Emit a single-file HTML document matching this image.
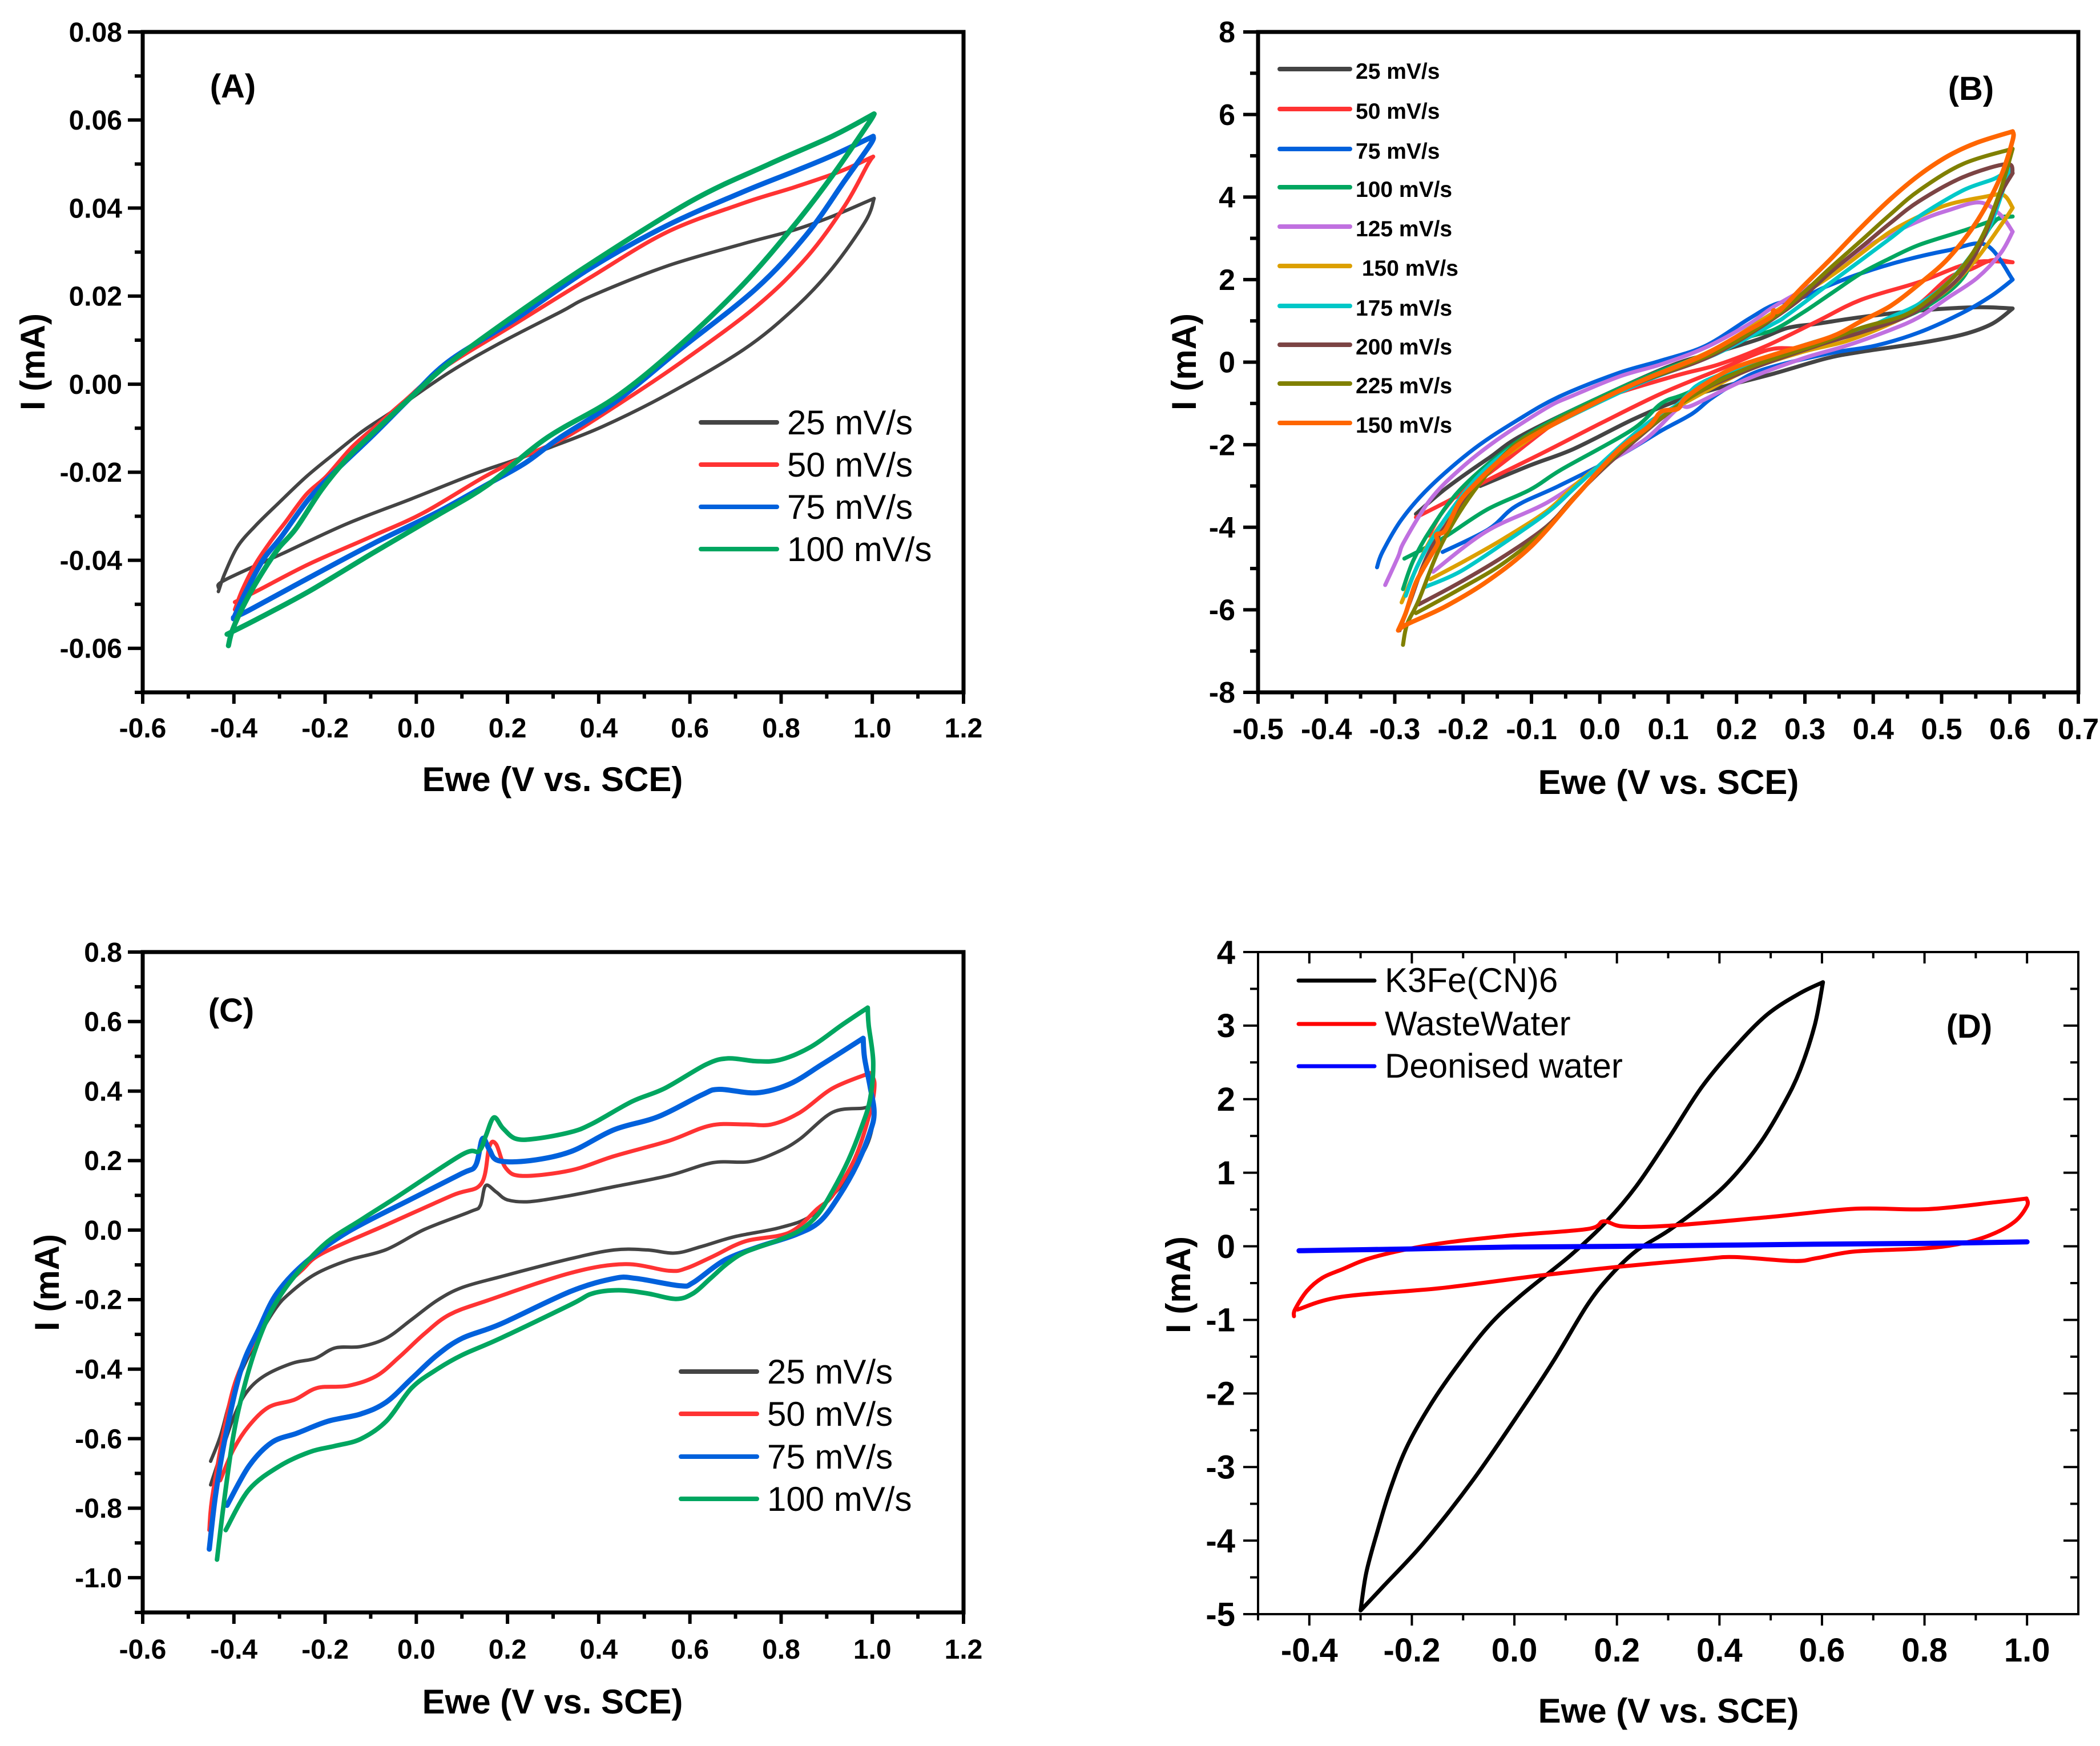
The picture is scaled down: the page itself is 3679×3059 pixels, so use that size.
<!DOCTYPE html>
<html lang="en">
<head>
<meta charset="utf-8">
<title>Cyclic voltammetry panels A-D</title>
<style>
html,body{margin:0;padding:0;background:#fff;width:3679px;height:3059px;overflow:hidden}
svg{display:block}
text{font-family:"Liberation Sans",sans-serif;fill:#000}
</style>
</head>
<body>
<svg id="figure" xmlns="http://www.w3.org/2000/svg" width="3679" height="3059" viewBox="0 0 3679 3059"></svg>
<script>
// ---------- Panel A ----------
const aLabels = ['25 mV/s','50 mV/s','75 mV/s','100 mV/s'];
const aXTicks = [-0.6,-0.4,-0.2,0,0.2,0.4,0.6,0.8,1.0,1.2];
const aYTicks = [-0.06,-0.04,-0.02,0,0.02,0.04,0.06,0.08];
const a25 = [[-.434,-.0471],[-.42,-.043],[-.392,-.0369],[-.353,-.0322],[-.303,-.0271],[-.241,-.021],[-.18,-.0158],[-.118,-.0107],[-.051,-.0061],[.071,.0026],[.183,.0093],[.318,.0165],[.381,.0199],[.549,.0268],[.717,.0319],[.828,.035],[.912,.0381],[1.004,.0422],null,[.985,.037],[.912,.0263],[.828,.0171],[.717,.0078],[.549,-.0024],[.409,-.0096],[.295,-.0143],[.211,-.0174],[.127,-.0204],[-.012,-.0261],[-.152,-.0317],[-.292,-.0384],[-.42,-.0445],[-.434,-.0462]];
const a50 = [[-.398,-.0512],[-.381,-.0466],[-.353,-.0409],[-.32,-.0358],[-.286,-.0312],[-.241,-.025],[-.197,-.0209],[-.141,-.0143],[-.085,-.0092],[-.029,-.0041],[.06,.0037],[.2135,.0135],[.381,.0242],[.549,.0345],[.717,.0411],[.828,.0447],[.929,.0483],[1.002,.0517],null,[.99,.0499],[.94,.0406],[.856,.0288],[.745,.0176],[.577,.0047],[.437,-.005],[.325,-.0122],[.239,-.0163],[.15,-.021],[.016,-.0292],[-.096,-.0345],[-.236,-.0409],[-.348,-.0469],[-.398,-.0495]];
const a75 = [[-.401,-.0533],[-.376,-.0476],[-.336,-.0399],[-.297,-.0348],[-.236,-.0261],[-.174,-.0194],[-.096,-.0117],[-.012,-.003],[.071,.0052],[.2135,.0145],[.381,.0263],[.549,.036],[.717,.0437],[.828,.0483],[.912,.0519],[1.002,.0563],null,[.996,.0545],[.94,.0463],[.856,.034],[.745,.0217],[.577,.0078],[.437,-.004],[.314,-.0122],[.239,-.0179],[.155,-.0228],[.044,-.0292],[-.096,-.0363],[-.236,-.044],[-.364,-.0512],[-.401,-.053]];
const a100 = [[-.412,-.0594],[-.403,-.0558],[-.376,-.0497],[-.342,-.0435],[-.303,-.0374],[-.264,-.0328],[-.208,-.024],[-.152,-.0169],[-.096,-.0112],[-.012,-.003],[.071,.0047],[.2135,.0155],[.381,.0273],[.605,.0417],[.772,.0499],[.912,.0563],[1.004,.0614],null,[.99,.059],[.912,.0473],[.828,.036],[.717,.0227],[.577,.0088],[.437,-.003],[.286,-.0122],[.155,-.023],[.044,-.0299],[-.096,-.0384],[-.236,-.0471],[-.348,-.0533],[-.415,-.0568]];

// ---------- Panel B ----------
const bLabels = ['25 mV/s','50 mV/s','75 mV/s','100 mV/s','125 mV/s',' 150 mV/s','175 mV/s','200 mV/s','225 mV/s','150 mV/s'];
const bXTicks = [-0.5,-0.4,-0.3,-0.2,-0.1,0,0.1,0.2,0.3,0.4,0.5,0.6,0.7];
const bYTicks = [-8,-6,-4,-2,0,2,4,6,8];
const b25 = [[-.269,-3.68],[-.226,-3.07],[-.163,-2.33],[-.099,-1.64],[.09,-.18],[.175,.26],[.233,.56],[.275,.83],[.318,.93],[.382,1.09],[.467,1.25],[.552,1.33],[.604,1.3],null,[.574,.93],[.531,.67],[.467,.46],[.382,.25],[.331,.09],[.254,-.28],[.175,-.62],[.111,-.95],[.047,-1.4],[-.038,-2.1],[-.102,-2.5],[-.175,-3]];
const b50 = [[-.25,-4.2],[-.231,-3.65],[-.197,-3.01],[-.163,-2.7],[-.077,-1.6],[-.038,-1.15],[.026,-.75],[.115,-.31],[.175,-.05],[.243,.39],[.318,.99],[.382,1.51],[.467,1.94],[.544,2.41],[.604,2.42],null,[.574,2.47],[.544,2.26],[.51,2.04],[.467,1.41],[.425,1.04],[.361,.62],[.297,.35],[.247,.3],[.175,-.18],[.09,-.76],[.005,-1.45],[-.08,-2.17],[-.163,-2.85],[-.226,-3.4],[-.269,-3.76]];
const b75 = [[-.326,-4.97],[-.318,-4.6],[-.29,-3.81],[-.248,-3.01],[-.184,-2.1],[-.12,-1.4],[-.06,-.84],[.026,-.27],[.09,.04],[.154,.39],[.218,1.05],[.256,1.4],[.297,1.57],[.331,1.83],[.382,2.15],[.446,2.47],[.51,2.71],[.565,2.84],[.604,2],null,[.574,1.62],[.531,1.2],[.467,.72],[.403,.4],[.332,.2],[.239,-.18],[.196,-.53],[.162,-.89],[.135,-1.25],[.09,-1.66],[.03,-2.25],[-.06,-3],[-.123,-3.49],[-.163,-4.05],[-.23,-4.6]];
const b100 = [[-.288,-5.5],[-.273,-4.81],[-.248,-4.07],[-.205,-3.1],[-.141,-2.17],[-.077,-1.48],[.008,-.79],[.09,-.2],[.154,.17],[.218,.61],[.254,.78],[.297,1.2],[.339,1.67],[.382,2.15],[.425,2.52],[.467,2.84],[.531,3.18],[.582,3.47],[.604,3.53],null,[.582,3.47],[.561,3],[.531,2.04],[.489,1.46],[.446,1.09],[.382,.72],[.318,.46],[.211,-.12],[.126,-.76],[.09,-1],[.047,-1.64],[-.056,-2.6],[-.102,-3.09],[-.166,-3.58],[-.231,-4.28],[-.286,-4.76]];
const b125 = [[-.314,-5.4],[-.295,-4.71],[-.286,-4.34],[-.248,-3.33],[-.205,-2.6],[-.15,-1.88],[-.077,-1.1],[-.038,-.8],[.03,-.34],[.09,-.05],[.154,.35],[.218,.92],[.256,1.36],[.339,2.15],[.395,2.84],[.467,3.42],[.51,3.68],[.556,3.87],[.586,3.57],[.604,3.16],null,[.586,2.63],[.552,2.04],[.51,1.57],[.467,1.09],[.425,.78],[.361,.4],[.297,.09],[.211,-.44],[.135,-1.05],[.115,-1.11],[.068,-1.85],[.005,-2.5],[-.077,-3.4],[-.166,-4.1],[-.244,-5.08]];
const b150 = [[-.29,-5.82],[-.269,-5.02],[-.243,-4.18],[-.205,-3.4],[-.163,-2.6],[-.12,-2.06],[-.077,-1.59],[.008,-.85],[.072,-.37],[.169,.33],[.254,1.2],[.339,2.1],[.382,2.63],[.425,3.16],[.467,3.53],[.51,3.82],[.561,4],[.59,4.05],[.604,3.74],null,[.591,3.42],[.552,2.52],[.51,1.78],[.467,1.3],[.425,.93],[.361,.51],[.297,.25],[.211,-.23],[.126,-.97],[.11,-1.11],[.072,-1.59],[.029,-2.12],[-.035,-2.96],[-.077,-3.6],[-.141,-4.28],[-.197,-4.81],[-.248,-5.26]];
const b175 = [[-.284,-5.66],[-.265,-4.87],[-.231,-3.91],[-.18,-2.8],[-.128,-2.06],[-.077,-1.59],[.008,-.9],[.072,-.42],[.169,.19],[.254,.93],[.275,1.15],[.339,1.94],[.382,2.47],[.425,3],[.467,3.53],[.531,4.16],[.578,4.45],[.6,4.69],null,[.574,3.42],[.552,2.79],[.51,1.94],[.467,1.41],[.425,1.09],[.382,.78],[.318,.51],[.239,.08],[.175,-.31],[.141,-.58],[.114,-1.02],[.072,-1.45],[.029,-2.05],[-.035,-3.02],[-.077,-3.65],[-.141,-4.39],[-.205,-5.08],[-.256,-5.45]];
const b200 = [[-.293,-6.5],[-.278,-5.82],[-.248,-4.55],[-.197,-3.33],[-.137,-2.22],[-.077,-1.56],[.008,-.85],[.072,-.4],[.169,.2],[.275,1.3],[.339,2.2],[.39,2.89],[.425,3.37],[.467,3.9],[.531,4.48],[.595,4.8],[.604,4.58],null,[.586,4.06],[.561,3],[.531,2.15],[.489,1.52],[.446,1.09],[.382,.72],[.318,.4],[.211,-.23],[.126,-.92],[.029,-2.22],[-.035,-3.23],[-.077,-3.97],[-.141,-4.71],[-.205,-5.34],[-.265,-5.87]];
const b225 = [[-.288,-6.85],[-.282,-6.35],[-.265,-5.77],[-.231,-4.39],[-.184,-3.12],[-.128,-2.06],[-.077,-1.53],[-.013,-1],[.05,-.53],[.169,.24],[.254,1.09],[.297,1.67],[.339,2.31],[.382,2.94],[.425,3.58],[.467,4.16],[.531,4.8],[.604,5.17],null,[.586,4.16],[.561,3.1],[.531,2.31],[.489,1.62],[.446,1.14],[.382,.83],[.318,.43],[.211,-.18],[.126,-.92],[.029,-2.17],[-.035,-3.23],[-.077,-4.02],[-.141,-4.87],[-.205,-5.5],[-.269,-6.08]];
const b150b = [[-.295,-6.5],[-.284,-6.08],[-.269,-5.34],[-.248,-4.71],[-.237,-4.39],[-.239,-4.18],[-.226,-4.07],[-.205,-3.38],[-.18,-2.91],[-.154,-2.49],[-.12,-2.01],[-.077,-1.59],[-.035,-1.22],[.029,-.69],[.072,-.37],[.148,.14],[.211,.72],[.25,1.09],[.254,1.25],[.263,1.25],[.297,1.83],[.339,2.52],[.382,3.26],[.425,3.95],[.467,4.53],[.51,5],[.552,5.32],[.604,5.59],null,[.604,5.38],[.586,4.48],[.552,3.42],[.51,2.52],[.467,1.89],[.425,1.36],[.382,.99],[.339,.62],[.26,.21],[.196,-.14],[.154,-.53],[.124,-.89],[.114,-1.13],[.09,-1.2],[.072,-1.55],[.026,-2.15],[-.035,-3.25],[-.099,-4.44],[-.163,-5.29],[-.226,-5.92],[-.282,-6.35],[-.295,-6.5]];

// ---------- Panel C ----------
const cLabels = ['25 mV/s','50 mV/s','75 mV/s','100 mV/s'];
const cXTicks = [-0.6,-0.4,-0.2,0,0.2,0.4,0.6,0.8,1.0,1.2];
const cYTicks = [-1.0,-0.8,-0.6,-0.4,-0.2,0,0.2,0.4,0.6,0.8];
const c25 = [[-.451,-.665],[-.429,-.59],[-.401,-.461],[-.356,-.332],[-.311,-.23],[-.278,-.182],[-.222,-.127],[-.15,-.087],[-.066,-.056],[.018,.002],[.118,.053],[.14,.07],[.152,.128],[.175,.11],[.2,.087],[.25,.082],[.339,.1],[.434,.125],[.554,.157],[.65,.194],[.731,.197],[.794,.226],[.842,.263],[.913,.339],[.98,.351],[1.0,.36],null,[1.004,.33],[.99,.25],[.952,.163],[.913,.1],[.861,.037],[.794,.006],[.698,-.019],[.626,-.047],[.568,-.066],[.506,-.057],[.434,-.057],[.339,-.082],[.185,-.134],[.101,-.165],[.046,-.202],[-.01,-.257],[-.066,-.311],[-.122,-.335],[-.178,-.339],[-.222,-.369],[-.272,-.383],[-.334,-.42],[-.373,-.468],[-.401,-.54],[-.43,-.65],[-.451,-.733]];
const c50 = [[-.454,-.863],[-.445,-.747],[-.401,-.454],[-.345,-.298],[-.3,-.182],[-.25,-.114],[-.205,-.066],[-.066,.015],[.079,.1],[.142,.133],[.16,.24],[.175,.247],[.196,.179],[.233,.156],[.339,.172],[.434,.213],[.554,.257],[.645,.301],[.722,.304],[.779,.304],[.842,.339],[.913,.408],[.995,.452],null,[1.005,.42],[.995,.339],[.962,.207],[.913,.1],[.88,.062],[.818,-.007],[.722,-.032],[.65,-.076],[.592,-.11],[.554,-.117],[.458,-.098],[.339,-.123],[.157,-.202],[.073,-.243],[.018,-.298],[-.038,-.366],[-.088,-.42],[-.15,-.448],[-.217,-.454],[-.267,-.488],[-.323,-.509],[-.367,-.563],[-.401,-.631],[-.43,-.72]];
const c75 = [[-.454,-.918],[-.44,-.761],[-.418,-.59],[-.384,-.4],[-.345,-.284],[-.306,-.182],[-.244,-.094],[-.15,-.005],[-.01,.09],[.1,.163],[.13,.186],[.145,.263],[.16,.232],[.18,.2],[.25,.2],[.339,.226],[.434,.289],[.53,.326],[.626,.389],[.664,.405],[.746,.395],[.818,.42],[.89,.477],[.98,.552],null,[.983,.496],[.995,.414],[1.004,.339],[.995,.282],[.966,.188],[.928,.1],[.885,.025],[.832,-.013],[.746,-.05],[.674,-.088],[.607,-.151],[.578,-.16],[.482,-.139],[.434,-.139],[.339,-.176],[.185,-.27],[.101,-.311],[.046,-.359],[-.01,-.427],[-.066,-.495],[-.122,-.529],[-.194,-.55],[-.261,-.584],[-.317,-.611],[-.367,-.679],[-.415,-.792]];
const c100 = [[-.437,-.948],[-.423,-.795],[-.401,-.59],[-.378,-.454],[-.35,-.332],[-.317,-.23],[-.272,-.141],[-.2,-.039],[-.122,.029],[-.049,.09],[.1,.217],[.137,.227],[.152,.27],[.17,.324],[.19,.293],[.218,.263],[.262,.263],[.339,.282],[.387,.307],[.473,.37],[.545,.408],[.636,.477],[.684,.494],[.746,.486],[.798,.49],[.865,.527],[.933,.59],[.99,.64],null,[.992,.59],[1.002,.483],[.995,.376],[.976,.295],[.947,.2],[.913,.113],[.88,.044],[.842,0],[.794,-.029],[.722,-.063],[.683,-.095],[.645,-.139],[.607,-.182],[.569,-.198],[.506,-.182],[.444,-.173],[.387,-.182],[.339,-.214],[.185,-.311],[.101,-.359],[.046,-.4],[-.01,-.454],[-.066,-.55],[-.122,-.601],[-.178,-.621],[-.233,-.638],[-.3,-.679],[-.367,-.747],[-.418,-.863]];

// ---------- Panel D ----------
const dLabels = ['K3Fe(CN)6','WasteWater','Deonised water'];
const dXTicks = [-0.4,-0.2,0,0.2,0.4,0.6,0.8,1.0];
const dYTicks = [-5,-4,-3,-2,-1,0,1,2,3,4];
const dFerri = [[-.3,-4.95],[-.289,-4.44],[-.267,-3.87],[-.242,-3.3],[-.21,-2.73],[-.165,-2.17],[-.114,-1.65],[-.05,-1.08],[.014,-.66],[.11,-.12],[.18,.34],[.238,.82],[.302,1.48],[.365,2.16],[.429,2.7],[.493,3.15],[.557,3.44],[.602,3.59],null,[.586,3.01],[.557,2.39],[.525,1.93],[.481,1.42],[.429,.96],[.378,.62],[.302,.22],[.238,-.06],[.187,-.4],[.142,-.8],[.078,-1.54],[.014,-2.22],[-.082,-3.19],[-.178,-4.04],[-.254,-4.61],[-.3,-4.95]];
const dWaste = [[-.43,-.95],[-.428,-.86],[-.405,-.61],[-.375,-.43],[-.337,-.316],[-.274,-.146],[-.158,.025],[-.018,.14],[.142,.235],[.174,.34],[.212,.27],[.302,.28],[.493,.395],[.664,.51],[.806,.505],[.939,.6],[.999,.65],null,[1,.55],[.975,.33],[.927,.15],[.866,.03],[.794,-.03],[.664,-.07],[.59,-.16],[.545,-.2],[.43,-.146],[.366,-.174],[.206,-.276],[.046,-.4],[-.146,-.57],[-.337,-.686],[-.423,-.86]];
const dWater = [[-.42,-.06],[-.2,-.035],[0,-.01],[.2,0],[.4,.015],[.6,.03],[.8,.04],[1,.06]];

// ---------- Drawing ----------
const SVGNS = 'http://www.w3.org/2000/svg';
const root = document.getElementById('figure');
function make(tag, parent, attrs){
  const el = document.createElementNS(SVGNS, tag);
  for (const k in attrs) el.setAttribute(k, attrs[k]);
  parent.appendChild(el);
  return el;
}
function linear(d0, d1, r0, r1){ return v => r0 + (v - d0) * (r1 - r0) / (d1 - d0); }
function pathFrom(points, sx, sy){
  const segs = [[]];
  points.forEach(p => { if (p === null) { const last = segs[segs.length-1]; segs.push([last[last.length-1]]); } else segs[segs.length-1].push(p); });
  let d = '';
  segs.forEach((seg, si) => {
    const pts = seg.map(p => [sx(p[0]), sy(p[1])]);
    if (si === 0) d += 'M' + pts[0][0].toFixed(1) + ' ' + pts[0][1].toFixed(1);
    for (let i = 0; i < pts.length - 1; i++) {
      const p0 = pts[Math.max(i-1,0)], p1 = pts[i], p2 = pts[i+1], p3 = pts[Math.min(i+2,pts.length-1)];
      const c1x = p1[0] + (p2[0]-p0[0])/6, c1y = p1[1] + (p2[1]-p0[1])/6;
      const c2x = p2[0] - (p3[0]-p1[0])/6, c2y = p2[1] - (p3[1]-p1[1])/6;
      d += 'C' + c1x.toFixed(1) + ' ' + c1y.toFixed(1) + ' ' + c2x.toFixed(1) + ' ' + c2y.toFixed(1) + ' ' + p2[0].toFixed(1) + ' ' + p2[1].toFixed(1);
    }
  });
  return d;
}
function drawPanel(p){
  const g = make('g', root, {});
  
  
  const sx = linear(p.xDom[0], p.xDom[1], p.box[0], p.box[2]);
  const sy = linear(p.yDom[0], p.yDom[1], p.box[3], p.box[1]);

  // series first so the frame stays on top
  p.series.forEach((s, i) => {
    const path = make('path', g, {d: pathFrom(s, sx, sy), fill: 'none', stroke: p.colors[i], 'stroke-width': p.widths[i], 'stroke-linejoin': 'round', 'stroke-linecap': 'round'});
    
    
  });

  const frame = make('rect', g, {x: p.box[0], y: p.box[1], width: p.box[2]-p.box[0], height: p.box[3]-p.box[1], fill: 'none', stroke: '#000', 'stroke-width': p.spine});
  
  

  const tw = p.tickWidth;
  function tick(x1, y1, x2, y2, name){
    const t = make('line', g, {x1: x1, y1: y1, x2: x2, y2: y2, stroke: '#000', 'stroke-width': tw});
    
    
  }
  p.xTicks.forEach(v => {
    const x = sx(v);
    tick(x, p.box[3], x, p.box[3] + 20, 'x-tick');
    if (p.inner) tick(x, p.box[1], x, p.box[1] + 20, 'x-tick-top');
    const lab = make('text', g, {x: x, y: p.xLabelY, 'text-anchor': 'middle', 'font-weight': 'bold', 'font-size': p.tickFont});
    lab.textContent = p.xFmt(v);
    
    
    const m = v + p.xMinor;
    if (m < p.xDom[1] - 1e-9) {
      tick(sx(m), p.box[3], sx(m), p.box[3] + 11, 'x-minor-tick');
      if (p.inner) tick(sx(m), p.box[1], sx(m), p.box[1] + 11, 'x-minor-tick-top');
    }
  });
  if (p.xTicks[0] - p.xMinor >= p.xDom[0] - 1e-9) {
    tick(sx(p.xTicks[0] - p.xMinor), p.box[3], sx(p.xTicks[0] - p.xMinor), p.box[3] + 11, 'x-minor-tick');
    if (p.inner) tick(sx(p.xTicks[0] - p.xMinor), p.box[1], sx(p.xTicks[0] - p.xMinor), p.box[1] + 11, 'x-minor-tick-top');
  }
  p.yTicks.forEach(v => {
    const y = sy(v);
    tick(p.box[0], y, p.box[0] - 26, y, 'y-tick');
    if (p.inner) tick(p.box[2], y, p.box[2] - 26, y, 'y-tick-right');
    const lab = make('text', g, {x: p.yLabelX, y: y + p.tickFont * 0.35, 'text-anchor': 'end', 'font-weight': 'bold', 'font-size': p.tickFont});
    lab.textContent = p.yFmt(v);
    
    
    const m = v + p.yMinor;
    if (m < p.yDom[1] - 1e-9) {
      tick(p.box[0], sy(m), p.box[0] - 14, sy(m), 'y-minor-tick');
      if (p.inner) tick(p.box[2], sy(m), p.box[2] - 14, sy(m), 'y-minor-tick-right');
    }
  });
  if (p.yTicks[0] - p.yMinor >= p.yDom[0] - 1e-9) {
    const m0 = p.yTicks[0] - p.yMinor;
    tick(p.box[0], sy(m0), p.box[0] - 14, sy(m0), 'y-minor-tick');
  }

  const xt = make('text', g, {x: p.xTitle[0], y: p.xTitle[1], 'text-anchor': 'middle', 'font-weight': 'bold', 'font-size': p.titleFont});
  xt.textContent = 'Ewe (V vs. SCE)';
  
  
  const yt = make('text', g, {transform: 'translate(' + p.yTitle[0] + ' ' + p.yTitle[1] + ') rotate(-90)', 'text-anchor': 'middle', 'font-weight': 'bold', 'font-size': p.titleFont});
  yt.textContent = 'I (mA)';
  
  
  const tag = make('text', g, {x: p.tag[0], y: p.tag[1], 'text-anchor': 'middle', 'font-weight': 'bold', 'font-size': 58});
  tag.textContent = '(' + p.id.toUpperCase() + ')';
  
  

  p.labels.forEach((txt, i) => {
    const y = p.legend.rows[i];
    const ln = make('line', g, {x1: p.legend.x1, y1: y, x2: p.legend.x2, y2: y, stroke: p.colors[i], 'stroke-width': p.legend.width, 'stroke-linecap': 'round'});
    
    
    const t = make('text', g, {x: p.legend.tx, y: y + p.legend.dy, 'font-size': p.legend.font, 'font-weight': p.legend.weight});
    t.setAttribute('xml:space', 'preserve');
    t.style.whiteSpace = 'pre';
    t.textContent = txt;
    
    
  });
}
const GRAY='#444444', RED='#FF3333', BLUE='#0061DC', GREEN='#00A660';
const two = v => v.toFixed(2), one = v => v.toFixed(1), int = v => String(v);

drawPanel({id:'a', box:[250,56,1688,1213], xDom:[-0.6,1.2], yDom:[-0.07,0.08], spine:7, tickWidth:6, inner:false,
  xTicks:aXTicks, yTicks:aYTicks, xMinor:0.1, yMinor:0.01, xFmt:one, yFmt:two, tickFont:48, xLabelY:1292, yLabelX:214,
  xTitle:[968,1386], yTitle:[78,634], titleFont:60, tag:[408,171],
  series:[a25,a50,a75,a100], labels:aLabels, colors:[GRAY,RED,BLUE,GREEN], widths:[6,7,9,9],
  legend:{x1:1228,x2:1361,tx:1379,rows:[740,814,888,962],dy:21,font:60,weight:'normal',width:8}});

drawPanel({id:'b', box:[2204,56,3641,1213], xDom:[-0.5,0.7], yDom:[-8,8], spine:7, tickWidth:6, inner:false,
  xTicks:bXTicks, yTicks:bYTicks, xMinor:0.05, yMinor:1, xFmt:one, yFmt:int, tickFont:52, xLabelY:1295, yLabelX:2164,
  xTitle:[2923,1391], yTitle:[2095,634], titleFont:60, tag:[3453,175],
  series:[b25,b50,b75,b100,b125,b150,b175,b200,b225,b150b], labels:bLabels,
  colors:[GRAY,RED,BLUE,GREEN,'#C070E0','#DCA000','#00C8C8','#7C4444','#808000','#FF6600'], widths:[7,7,7,7,7,7,7,7,7,8],
  legend:{x1:2242,x2:2365,tx:2375,rows:[121,191,261,328,397,466,536,604,672,741],dy:17,font:39,weight:'bold',width:8}});

drawPanel({id:'c', box:[250,1668,1688,2825], xDom:[-0.6,1.2], yDom:[-1.1,0.8], spine:7, tickWidth:6, inner:false,
  xTicks:cXTicks, yTicks:cYTicks, xMinor:0.1, yMinor:0.1, xFmt:one, yFmt:one, tickFont:48, xLabelY:2906, yLabelX:214,
  xTitle:[968,3002], yTitle:[103,2247], titleFont:60, tag:[405,1790],
  series:[c25,c50,c75,c100], labels:cLabels, colors:[GRAY,RED,BLUE,GREEN], widths:[6,7,9,8],
  legend:{x1:1193,x2:1326,tx:1344,rows:[2403,2477,2552,2626],dy:21,font:60,weight:'normal',width:8}});

drawPanel({id:'d', box:[2204,1668,3641,2828], xDom:[-0.5,1.1], yDom:[-5,4], spine:4, tickWidth:4, inner:true,
  xTicks:dXTicks, yTicks:dYTicks, xMinor:0.1, yMinor:0.5, xFmt:one, yFmt:int, tickFont:58, xLabelY:2911, yLabelX:2164,
  xTitle:[2923,3018], yTitle:[2085,2251], titleFont:60, tag:[3450,1818],
  series:[dFerri,dWaste,dWater], labels:dLabels, colors:['#000000','#FF0000','#0000FF'], widths:[7,7,9],
  legend:{x1:2275,x2:2408,tx:2426,rows:[1718,1794,1868],dy:20,font:60,weight:'normal',width:7}});
</script>
</body>
</html>
